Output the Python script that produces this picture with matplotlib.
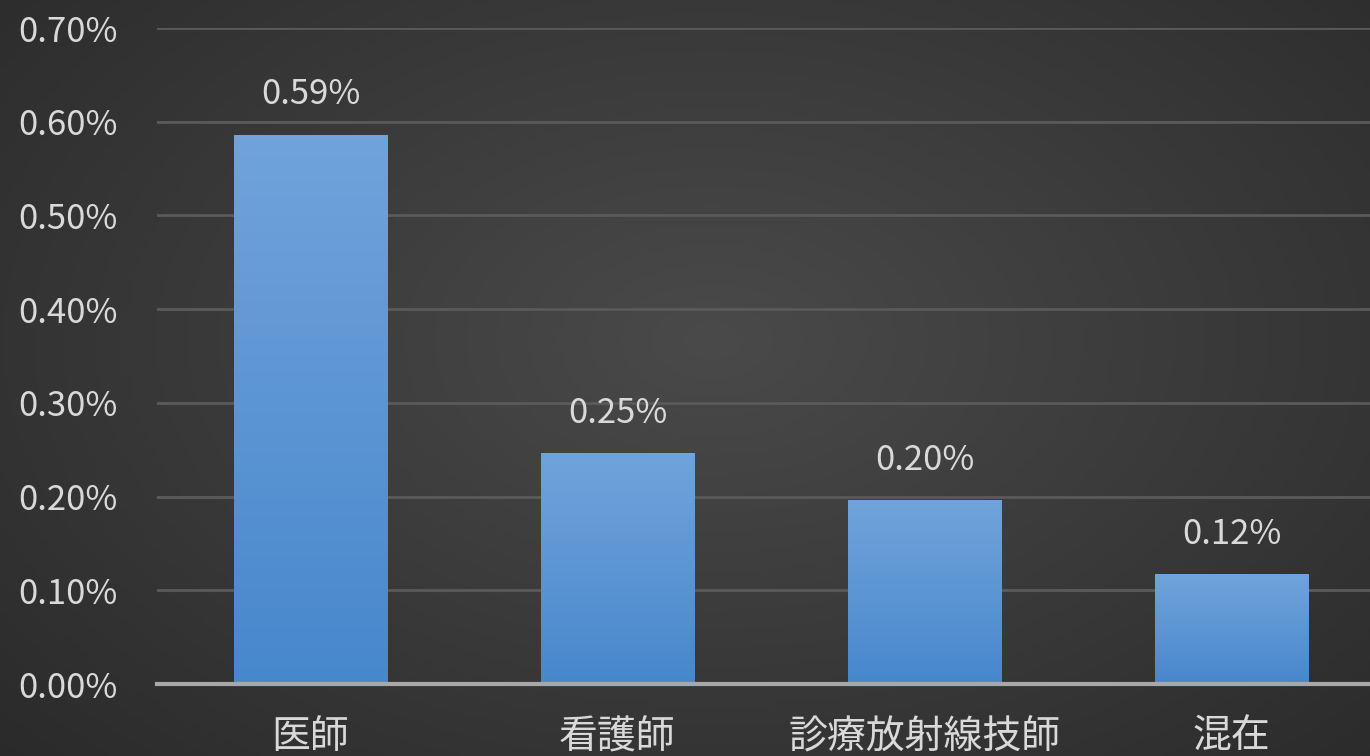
import numpy as np
import matplotlib
matplotlib.use("Agg")
import matplotlib.pyplot as plt

plt.rcParams['font.family'] = ['Noto Sans CJK JP', 'DejaVu Sans']

# 職種別の割合 (%)
categories = ['医師', '看護師', '診療放射線技師', '混在']
rates = [0.586, 0.246, 0.196, 0.117]
yticks = [0.0, 0.1, 0.2, 0.3, 0.4, 0.5, 0.6, 0.7]

text_color = '#d9d9d9'

fig = plt.figure(figsize=(13.7, 7.56), dpi=100)

# radial dark background
bg = fig.add_axes([0, 0, 1, 1], zorder=-10)
gx, gy = np.meshgrid(np.linspace(0, 1, 400), np.linspace(0, 1, 240))
r = np.sqrt(((gx - 0.52) / 0.75) ** 2 + ((gy - 0.45) / 0.85) ** 2)
shade = np.clip(1 - r, 0, 1)
lo, hi = np.array([0.16, 0.16, 0.16]), np.array([0.29, 0.29, 0.29])
img = lo + (hi - lo) * shade[..., None]
bg.imshow(img, extent=[0, 1, 0, 1], aspect='auto', origin='upper')
bg.axis('off')

ax = fig.add_axes([157 / 1370, 72 / 756, 1228 / 1370, 656 / 756])
ax.set_facecolor('none')

x = np.arange(len(categories))
bars = ax.bar(x, rates, width=0.5, color='#5a96d8', zorder=3)

# vertical gradient inside each bar
grad = np.linspace(0, 1, 256)[:, None]
top_c = np.array([0.44, 0.64, 0.86])
bot_c = np.array([0.28, 0.53, 0.80])
gimg = top_c + (bot_c - top_c) * grad[..., None]
for b in bars:
    x0, w, h = b.get_x(), b.get_width(), b.get_height()
    im = ax.imshow(np.repeat(gimg, 2, axis=1), extent=[x0, x0 + w, 0, h],
                   aspect='auto', origin='upper', zorder=4)
    im.set_clip_path(b)
ax.set_xlim(-0.5, 3.5)
ax.set_ylim(0, 0.7)

for xi, v in zip(x, rates):
    ax.text(xi, v + 0.043, f'{v:.2f}%', ha='center', va='center',
            color=text_color, fontsize=25, zorder=5)

ax.set_yticks(yticks)
ax.set_yticklabels([f'{t:.2f}%' for t in yticks], color=text_color, fontsize=25)
ax.yaxis.grid(True, color='#5a5a5a', linewidth=2)
ax.set_axisbelow(True)
ax.tick_params(axis='y', length=0, pad=28)
ax.tick_params(axis='x', length=0, pad=24)
ax.set_xticks(x)
ax.set_xticklabels(categories, color=text_color, fontsize=28)

for s in ['top', 'right', 'left']:
    ax.spines[s].set_visible(False)
ax.spines['bottom'].set_color('#a8a8a8')
ax.spines['bottom'].set_linewidth(3)
ax.spines['bottom'].set_zorder(6)

fig.savefig('out.png', dpi=100)
